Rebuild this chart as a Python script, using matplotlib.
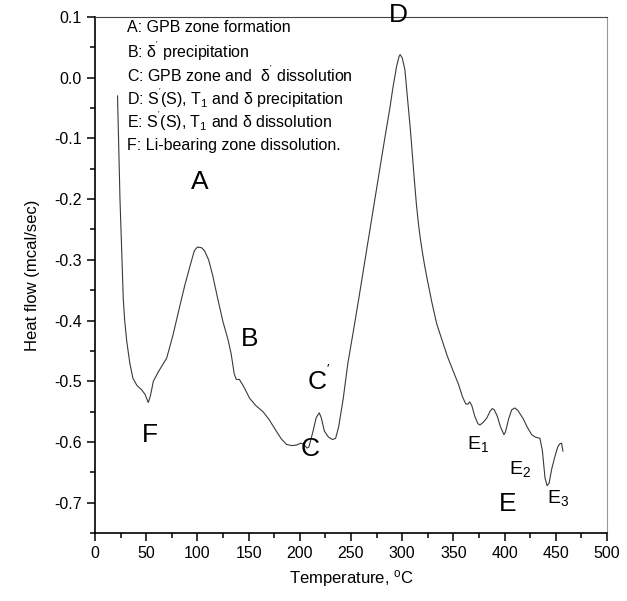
import numpy as np
import matplotlib
matplotlib.use("Agg")
import matplotlib.pyplot as plt
from matplotlib.ticker import MultipleLocator

plt.rcParams["font.family"] = ["Liberation Sans", "DejaVu Sans"]
plt.rcParams["mathtext.fontset"] = "custom"
plt.rcParams["mathtext.rm"] = "Liberation Sans"
plt.rcParams["mathtext.it"] = "Liberation Sans"
plt.rcParams["mathtext.default"] = "rm"

# DSC curve
temperature = [
    22, 23, 24.4, 26, 27.6, 29, 31, 34, 37, 41, 45.6, 49, 52, 54, 57, 62, 70,
    76, 83, 88, 93, 97, 100, 104, 107, 111, 115, 120, 125, 130, 133, 136, 138,
    141, 145, 151, 157, 164, 170, 177, 182, 187, 192, 197, 201, 204, 207, 209,
    213, 216, 219, 221, 224, 228, 232, 235, 238, 242.5, 247, 252.6, 258, 265,
    270, 275, 280, 284, 288, 291, 294.6, 297, 298, 300, 302.7, 305, 308, 312,
    314, 316, 318, 320, 322, 324, 329, 333.7, 338.5, 344, 350, 355, 359, 362,
    364, 366, 368, 371, 374, 376, 379, 382.5, 386, 388, 390, 393, 396, 399.4,
    401, 404, 407, 410, 413, 416, 418, 422, 426.5, 430, 434.6, 437, 439.5,
    441.5, 443.5, 446, 449, 452, 454, 455.7, 457,
]
heat_flow = [
    -0.030, -0.10, -0.20, -0.28, -0.364, -0.40, -0.434, -0.47, -0.495, -0.507,
    -0.514, -0.522, -0.535, -0.525, -0.500, -0.484, -0.462, -0.425, -0.375,
    -0.340, -0.309, -0.285, -0.279, -0.280, -0.285, -0.300, -0.326, -0.365,
    -0.402, -0.432, -0.455, -0.488, -0.497, -0.497, -0.508, -0.528, -0.540,
    -0.550, -0.563, -0.582, -0.595, -0.604, -0.606, -0.605, -0.602, -0.604,
    -0.610, -0.608, -0.582, -0.560, -0.552, -0.560, -0.582, -0.592, -0.596,
    -0.594, -0.575, -0.528, -0.47, -0.415, -0.360, -0.287, -0.235, -0.183,
    -0.131, -0.090, -0.050, -0.016, 0.019, 0.035, 0.038, 0.033, 0.013, -0.03,
    -0.085, -0.170, -0.210, -0.242, -0.268, -0.290, -0.310, -0.328, -0.370,
    -0.405, -0.430, -0.458, -0.484, -0.505, -0.526, -0.537, -0.538, -0.534,
    -0.540, -0.558, -0.570, -0.572, -0.568, -0.561, -0.549, -0.545, -0.547,
    -0.558, -0.575, -0.588, -0.583, -0.562, -0.547, -0.544, -0.548, -0.556,
    -0.561, -0.575, -0.588, -0.592, -0.594, -0.615, -0.659, -0.672, -0.668,
    -0.645, -0.625, -0.608, -0.603, -0.602, -0.615,
]

# peak labels: (text, T, heat flow, size)
peak_labels = [
    ("A", 102, -0.172, 19),
    ("B", 151, -0.430, 19),
    ("C$^{'}$", 219, -0.497, 19),
    ("C", 210, -0.612, 19),
    ("D", 296, 0.103, 19),
    ("F", 54, -0.588, 19),
    ("E", 403, -0.702, 19),
    ("E$_1$", 374, -0.604, 14),
    ("E$_2$", 415, -0.645, 14),
    ("E$_3$", 452, -0.692, 14),
]

legend_lines = [
    "A: GPB zone formation",
    "B: $\\delta^{'}$ precipitation",
    "C: GPB zone and  $\\delta^{'}$ dissolution",
    "D: S$^{'}$(S), T$_1$ and $\\delta$ precipitation",
    "E: S$^{'}$(S), T$_1$ and $\\delta$ dissolution",
    "F: Li-bearing zone dissolution.",
]

fig = plt.figure(figsize=(6.27, 6.01), dpi=100)
ax = fig.add_axes([0.1515, 0.1131, 0.8165, 0.8586])

ax.plot(temperature, heat_flow, color="#3a3a3a", lw=0.8)

ax.set_xlim(0, 500)
ax.set_ylim(-0.75, 0.1)
ax.xaxis.set_major_locator(MultipleLocator(50))
ax.xaxis.set_minor_locator(MultipleLocator(25))
ax.yaxis.set_major_locator(MultipleLocator(0.1))
ax.yaxis.set_minor_locator(MultipleLocator(0.05))
ax.yaxis.set_major_formatter(plt.FuncFormatter(lambda v, p: f"{v:.1f}"))
ax.tick_params(which="major", direction="out", length=6, width=1.1, labelsize=11.5)
ax.tick_params(which="minor", direction="out", length=3.5, width=1.1)

ax.spines["left"].set_linewidth(1.2)
ax.spines["bottom"].set_linewidth(1.2)
ax.spines["top"].set_color("#444444")
ax.spines["top"].set_linewidth(0.8)
ax.spines["right"].set_color("#999999")
ax.spines["right"].set_linewidth(0.8)

ax.set_xlabel("Temperature, $^{\\rm o}$C", fontsize=12, labelpad=5)
ax.set_ylabel("Heat flow (mcal/sec)", fontsize=12, labelpad=10)

for txt, tx, ty, size in peak_labels:
    ax.text(tx, ty, txt, fontsize=size, ha="center", va="center", clip_on=False)

for i, line in enumerate(legend_lines):
    ax.text(0.063, 0.980 - i * 0.0457, line, transform=ax.transAxes,
            fontsize=11.5, ha="left", va="center")

fig.savefig("out.png", dpi=100)
